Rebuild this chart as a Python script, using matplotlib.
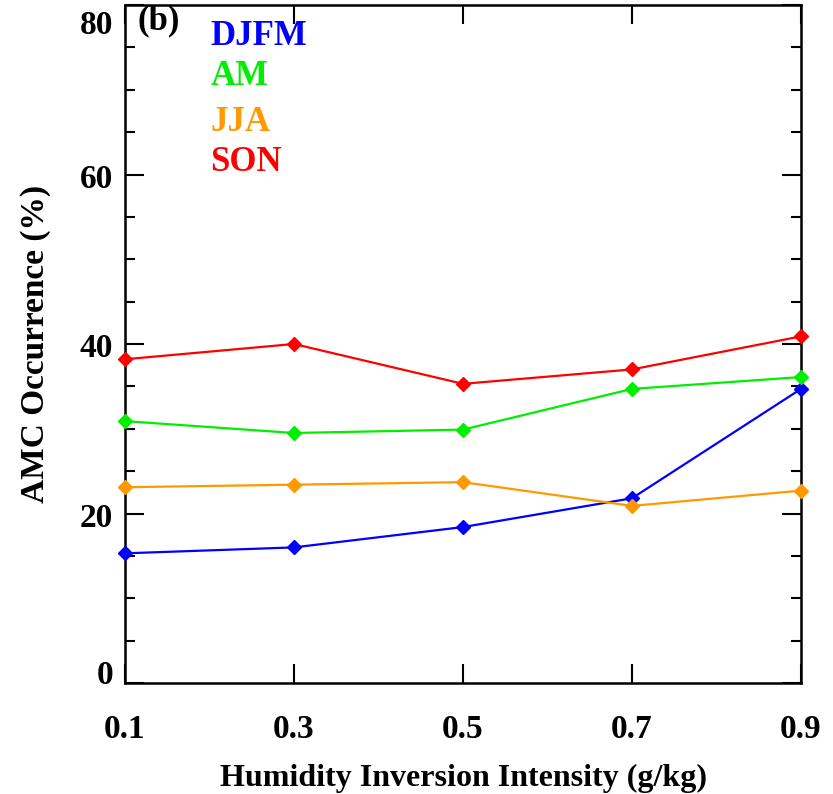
import matplotlib
matplotlib.use('Agg')
import matplotlib.pyplot as plt
from matplotlib.ticker import MultipleLocator
from matplotlib.transforms import blended_transform_factory, ScaledTranslation

# Данные
intensity = [0.1, 0.3, 0.5, 0.7, 0.9]
djfm = [15.3, 16.0, 18.4, 21.8, 34.7]
am = [30.9, 29.5, 29.9, 34.7, 36.1]
jja = [23.1, 23.4, 23.7, 20.9, 22.7]
son = [38.2, 40.0, 35.3, 37.0, 40.9]

season_names = ['DJFM', 'AM', 'JJA', 'SON']
season_colors = ['#0000ff', '#00ee00', '#ff9900', '#ff0000']
yticks = [0, 20, 40, 60, 80]

plt.rcParams['font.family'] = 'Liberation Serif'
plt.rcParams['font.weight'] = 'bold'

fig = plt.figure(figsize=(8.33, 7.94), dpi=100)
ax = fig.add_axes([125 / 833, 1 - 683 / 794, 676 / 833, 678 / 794])

for vals, color in zip([djfm, am, jja, son], season_colors):
    ax.plot(intensity, vals, color=color, lw=1.6, marker='D', ms=7, clip_on=False, zorder=3)

ax.set_xlim(0.1, 0.9)
ax.set_ylim(0, 80)
ax.set_xticks(intensity)
ax.set_xticklabels(['0.1', '0.3', '0.5', '0.7', '0.9'])
ax.set_yticks(yticks)
ax.set_yticklabels([])
ax.yaxis.set_minor_locator(MultipleLocator(5))

ax.tick_params(axis='both', which='both', direction='in', top=True, right=True, width=1.5)
ax.tick_params(axis='both', which='major', length=14, labelsize=24)
ax.tick_params(axis='both', which='minor', length=7)
ax.tick_params(axis='x', pad=22)
for s in ax.spines.values():
    s.set_linewidth(1.8)

# подписи оси Y вручную: крайние сдвинуты внутрь, как в оригинале
trans = blended_transform_factory(ax.transAxes, ax.transData)
shifts = {0: 8, 80: -20}  # в пикселях (dpi=100)
for v in yticks:
    t = trans + ScaledTranslation(-12 / 100, shifts.get(v, -5) / 100, fig.dpi_scale_trans)
    ax.text(0, v, str(v), transform=t, fontsize=24, fontweight='bold', ha='right', va='center')

ax.set_xlabel('Humidity Inversion Intensity (g/kg)', fontsize=23, fontweight='bold', labelpad=14)
ax.set_ylabel('AMC Occurrence (%)', fontsize=24, fontweight='bold', labelpad=50)

ax.text(0.018, 0.976, '(b)', transform=ax.transAxes, fontsize=25, fontweight='bold', va='center', ha='left')
legend_y = [0.953, 0.894, 0.827, 0.767]
for name, color, yy in zip(season_names, season_colors, legend_y):
    ax.text(0.126, yy, name, transform=ax.transAxes, fontsize=25,
            fontweight='bold', color=color, va='center', ha='left')

fig.savefig('out.png', dpi=100)
